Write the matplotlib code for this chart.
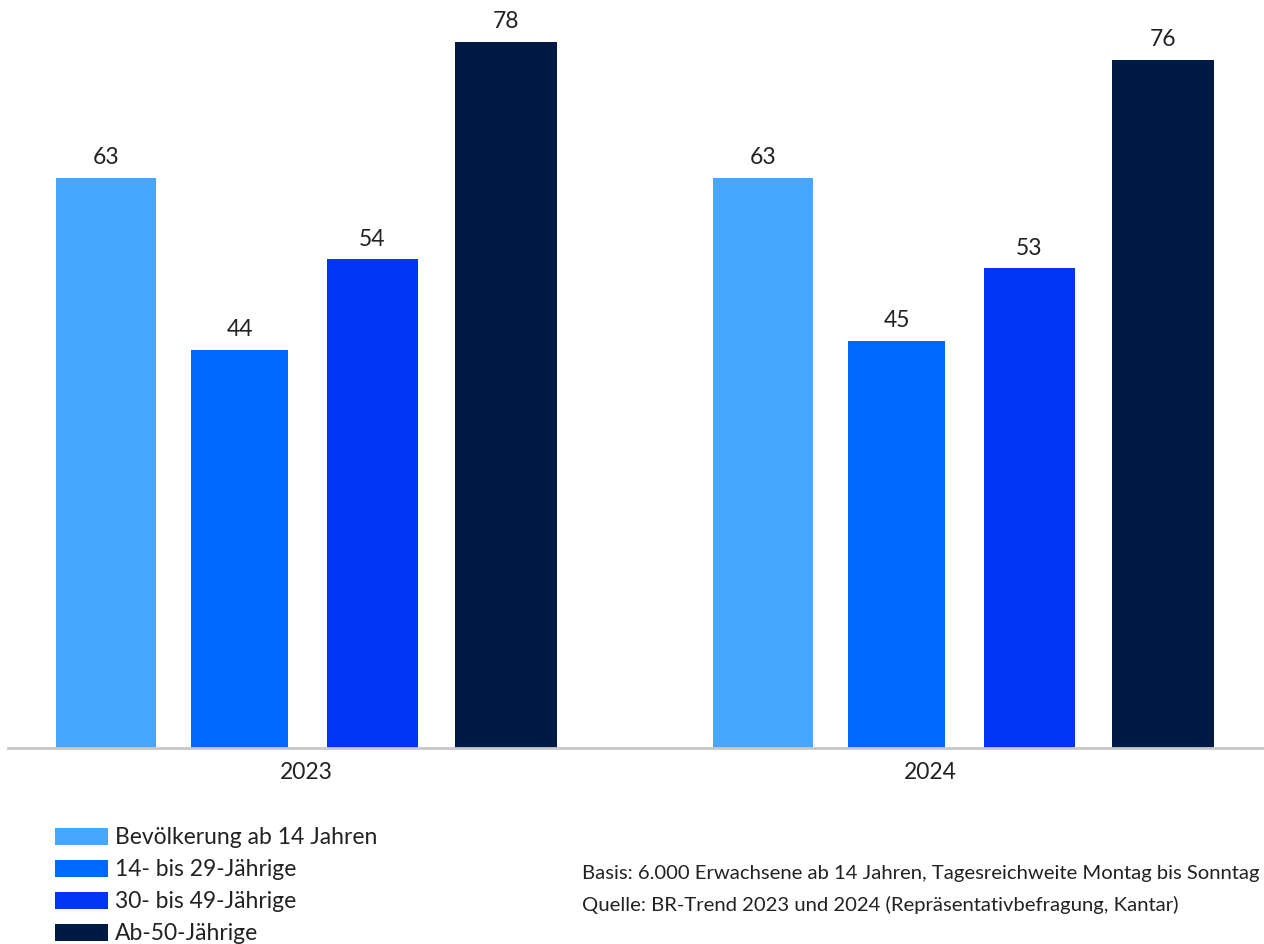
import matplotlib.pyplot as plt
import numpy as np

# data
years = ["2023", "2024"]
gruppen = ["Bevölkerung ab 14 Jahren", "14- bis 29-Jährige", "30- bis 49-Jährige", "Ab-50-Jährige"]
werte = {
    "Bevölkerung ab 14 Jahren": [63, 63],
    "14- bis 29-Jährige": [44, 45],
    "30- bis 49-Jährige": [54, 53],
    "Ab-50-Jährige": [78, 76],
}
farben = ["#46a7ff", "#0068ff", "#0035f4", "#001a45"]
quelle = ["Basis: 6.000 Erwachsene ab 14 Jahren, Tagesreichweite Montag bis Sonntag",
          "Quelle: BR-Trend 2023 und 2024 (Repräsentativbefragung, Kantar)"]

plt.rcParams['font.family'] = ['Lato', 'DejaVu Sans']

W, H = 1264, 944
fig = plt.figure(figsize=(W / 100, H / 100), dpi=100)
ax = fig.add_axes([8 / W, (H - 748) / H, 1 - 8 / W, 748 / H])

x = np.arange(len(years))
offsets = [-0.304, -0.101, 0.101, 0.304]
widths = [0.152, 0.148, 0.139, 0.155]

for i, g in enumerate(gruppen):
    bars = ax.bar(x + offsets[i], werte[g], width=widths[i], color=farben[i], label=g)
    ax.bar_label(bars, padding=7, fontsize=16.5, color="#222222")

ax.set_xlim(-0.4536, 1.458)
ax.set_ylim(0, 748 / 9.05)
ax.set_xticks(x - np.array([0, 0.05]))
ax.set_xticklabels(years, fontsize=16.5, color="#222222")
ax.tick_params(axis="x", length=0, pad=10)
ax.set_yticks([])
for s in ["top", "right", "left"]:
    ax.spines[s].set_visible(False)
ax.spines["bottom"].set_color("#c8c8c8")
ax.spines["bottom"].set_linewidth(2)

fig.legend(loc="upper left", bbox_to_anchor=(46 / W, 1 - 818 / H), frameon=False,
           fontsize=16.5, handlelength=2.3, handleheight=0.75, handletextpad=0.3,
           labelspacing=0.48, borderaxespad=0, labelcolor="#222222")

fig.text(582 / W, 1 - 873 / H, quelle[0], fontsize=14.6, color="#222222", va="center")
fig.text(582 / W, 1 - 905 / H, quelle[1], fontsize=14.6, color="#222222", va="center")

fig.savefig("out.png", dpi=100)
